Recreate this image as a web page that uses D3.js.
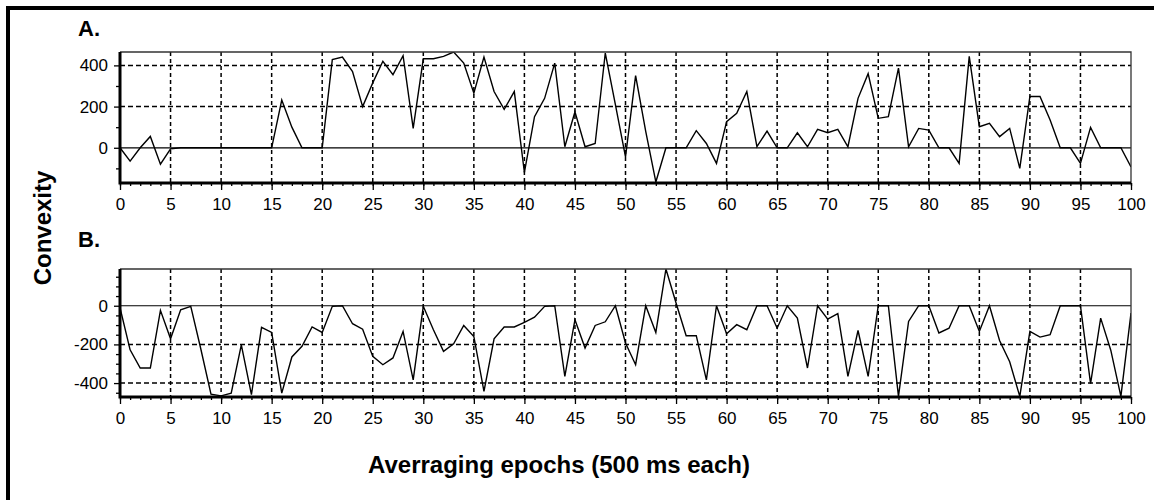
<!DOCTYPE html>
<html>
<head>
<meta charset="utf-8">
<script src="https://cdn.jsdelivr.net/npm/d3@7"></script>
<style>
  body { margin: 0; background: #fff; }
  svg { display: block; }
  text { font-family: "Liberation Sans", Arial, sans-serif; fill: #000; }
</style>
</head>
<body>
<div id="chart"></div>
<script>
// convexity per averaging epoch (index = epoch 0..100)
const convexityA = [
  0, -65, 0, 55, -80, -5, 0, 0, 0, 0,
  0, 0, 0, 0, 0, 0, 232, 100, 0, 0,
  0, 428, 440, 370, 200, 315, 420, 355, 447, 94,
  432, 432, 444, 465, 411, 265, 440, 273, 187, 273,
  -120, 151, 240, 411, 5, 175, 5, 21, 460, 210,
  -44, 350, 80, -166, 0, 0, 0, 83, 21, -76,
  127, 167, 273, 5, 81, 0, 0, 73, 5, 89,
  73, 89, 5, 240, 360, 143, 151, 387, 5, 94,
  86, 0, 0, -76, 444, 102, 119, 54, 94, -100,
  249, 249, 135, 0, 0, -76, 99, 0, 0, 0,
  -93
]
const convexityB = [
  -10, -228, -322, -322, -24, -171, -21, -3, -225, -457,
  -466, -452, -202, -460, -112, -138, -452, -265, -210, -110,
  -138, -3, 0, -93, -121, -262, -305, -270, -133, -383,
  -3, -124, -236, -197, -102, -159, -443, -171, -110, -110,
  -86, -59, -3, 0, -365, -72, -219, -102, -83, 0,
  -193, -305, 0, -138, 190, 14, -155, -155, -383, 0,
  -145, -98, -124, 0, 0, -116, 0, -64, -322, 0,
  -69, -41, -365, -128, -365, 0, 0, -469, -81, 0,
  0, -141, -116, 0, 0, -133, 0, -180, -290, -469,
  -133, -162, -150, 0, 0, 0, -403, -64, -230, -469,
  -38
]
const xTicks = [0, 5, 10, 15, 20, 25, 30, 35, 40, 45, 50, 55, 60, 65, 70, 75, 80, 85, 90, 95, 100]
const yTicksA = [0, 200, 400]
const yTicksB = [-400, -200, 0]
const minorYA = [-100, 100, 300]
const minorYB = [-450, -350, -300, -250, -150, -100, -50, 50, 100, 150]

const width = 1154
const height = 500
const left = 120
const right = 1131

const svg = d3.select('#chart')
  .append('svg')
  .attr('width', width)
  .attr('height', height)

// outer frame (left and top only)
svg.append('path')
  .attr('d', 'M8,500V8H1154')
  .attr('fill', 'none')
  .attr('stroke', '#000')
  .attr('stroke-width', 4)

const x = d3.scaleLinear().domain([0, 100]).range([left, right])

function drawPanel(data, top, bottom, domain, yTicks, minorY, label, labelY, id) {
  const y = d3.scaleLinear().domain(domain).range([bottom, top])
  const g = svg.append('g')

  g.append('clipPath').attr('id', id)
    .append('rect')
    .attr('x', left).attr('y', top)
    .attr('width', right - left).attr('height', bottom - top)

  // dashed grid
  g.selectAll('.vgrid')
    .data(xTicks.filter(d => d > 0 && d < 100))
    .enter().append('line')
    .attr('x1', d => x(d)).attr('x2', d => x(d))
    .attr('y1', top).attr('y2', bottom)
    .attr('stroke', '#000')
    .attr('stroke-width', 1.5)
    .attr('stroke-dasharray', '4,3')
  g.selectAll('.hgrid')
    .data(yTicks.filter(d => d !== 0))
    .enter().append('line')
    .attr('x1', left).attr('x2', right)
    .attr('y1', d => y(d)).attr('y2', d => y(d))
    .attr('stroke', '#000')
    .attr('stroke-width', 1.5)
    .attr('stroke-dasharray', '5,3')

  // zero line
  g.append('line')
    .attr('x1', left).attr('x2', right)
    .attr('y1', y(0)).attr('y2', y(0))
    .attr('stroke', '#000')
    .attr('stroke-width', 1.2)

  // series
  const line = d3.line()
    .x((d, i) => x(i))
    .y(d => y(d))
  g.append('path')
    .datum(data)
    .attr('clip-path', `url(#${id})`)
    .attr('d', line)
    .attr('fill', 'none')
    .attr('stroke', '#000')
    .attr('stroke-width', 1.4)
    .attr('stroke-linejoin', 'miter')

  // thin top / right border
  g.append('path')
    .attr('d', `M${left},${top}H${right}V${bottom}`)
    .attr('fill', 'none')
    .attr('stroke', '#333')
    .attr('stroke-width', 1.3)

  // x axis
  const xMinor = d3.axisBottom(x).tickValues(d3.range(0, 101)).tickSize(3).tickFormat('')
  g.append('g').attr('transform', `translate(0,${bottom})`).call(xMinor)
  const xAxis = d3.axisBottom(x).tickValues(xTicks).tickSize(7).tickPadding(8)
  const xg = g.append('g').attr('transform', `translate(0,${bottom})`).call(xAxis)

  // y axis
  const yMinor = d3.axisLeft(y).tickValues(minorY).tickSize(4).tickFormat('')
  g.append('g').attr('transform', `translate(${left},0)`).call(yMinor)
  const yAxis = d3.axisLeft(y).tickValues(yTicks).tickSize(6).tickPadding(6)
    .tickFormat(d => d < 0 ? '-' + Math.abs(d) : d)
  const yg = g.append('g').attr('transform', `translate(${left},0)`).call(yAxis)

  g.selectAll('.domain').remove()
  g.selectAll('.tick line').attr('stroke', '#000').attr('stroke-width', 1.3)
  g.selectAll('.tick text')
    .style('font-family', '"Liberation Sans", Arial, sans-serif')
    .style('font-size', '17px')
    .attr('fill', '#000')

  // heavy left and bottom axis lines
  g.append('path')
    .attr('d', `M${left},${top}V${bottom}H${right}`)
    .attr('fill', 'none')
    .attr('stroke', '#000')
    .attr('stroke-width', 3)

  g.append('text')
    .attr('x', 78).attr('y', labelY)
    .style('font-size', '22px')
    .style('font-weight', 'bold')
    .text(label)
}

drawPanel(convexityA, 52, 183, [-171, 465], yTicksA, minorYA, 'A.', 36, 'clipA')
drawPanel(convexityB, 269, 397, [-472, 190], yTicksB, minorYB, 'B.', 247, 'clipB')

svg.append('text')
  .attr('transform', 'translate(51,228) rotate(-90)')
  .attr('text-anchor', 'middle')
  .style('font-size', '24px')
  .style('font-weight', 'bold')
  .text('Convexity')

svg.append('text')
  .attr('x', 559).attr('y', 473)
  .attr('text-anchor', 'middle')
  .style('font-size', '24px')
  .style('font-weight', 'bold')
  .text('Averraging epochs (500 ms each)')
</script>
</body>
</html>
